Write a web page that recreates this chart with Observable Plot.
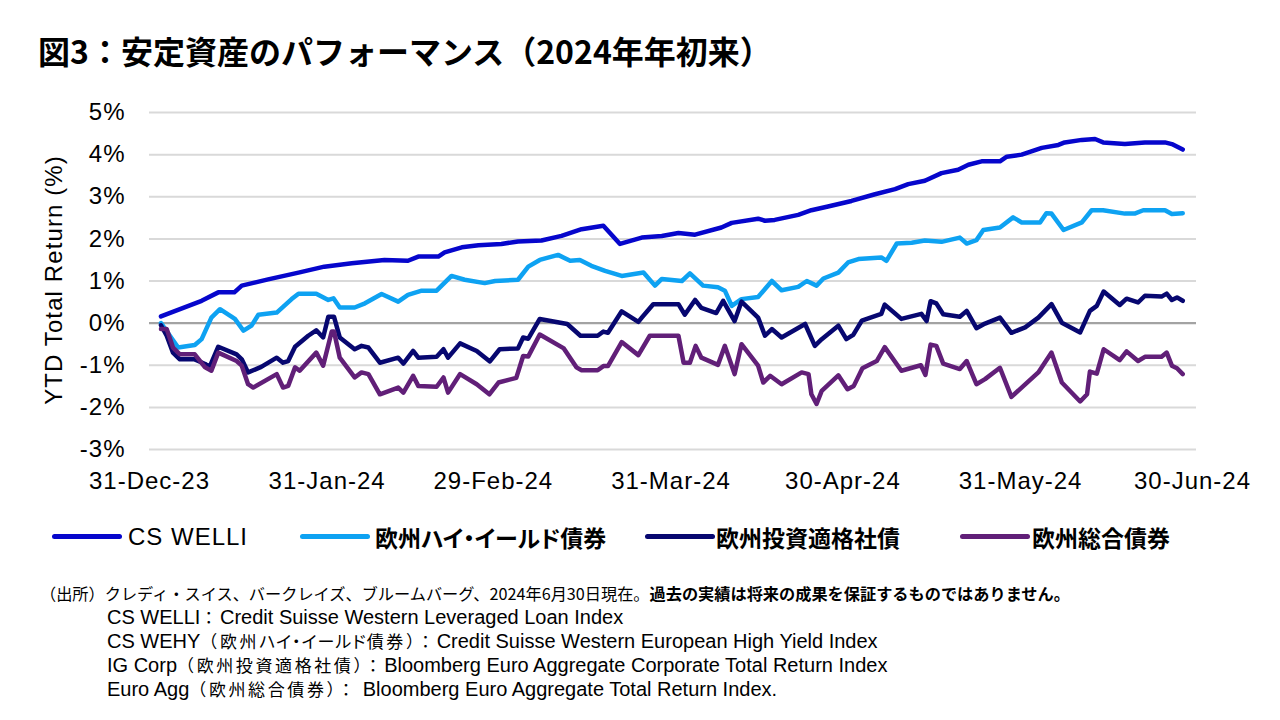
<!DOCTYPE html>
<html>
<head>
<meta charset="utf-8">
<script src="https://cdn.jsdelivr.net/npm/d3@7"></script>
<script src="https://cdn.jsdelivr.net/npm/@observablehq/plot@0.6"></script>
<style>
  html, body { margin: 0; padding: 0; background: #fff; }
  body { width: 1280px; height: 720px; position: relative; overflow: hidden; }
  #title { position: absolute; left: 38px; top: 32px; font-family: "Noto Sans CJK JP", sans-serif; font-weight: 700; font-size: 32px; line-height: 36px; color: #000; white-space: nowrap; }
  #chart { position: absolute; left: 0; top: 0; }
  #ytitle { position: absolute; left: -96px; top: 265px; width: 300px; height: 30px; line-height: 30px; text-align: center; transform: rotate(-90deg); transform-origin: 150px 15px; font-family: "Liberation Sans", Arial, sans-serif; font-size: 24px; letter-spacing: 1.1px; color: #000; white-space: nowrap; }
  .lg-line { position: absolute; height: 5px; border-radius: 2.5px; }
  .lg-text { position: absolute; height: 30px; line-height: 30px; white-space: nowrap; color: #000; }
  .lg-lat { font-family: "Liberation Sans", Arial, sans-serif; font-size: 24px; letter-spacing: 1px; }
  .lg-jp { font-family: "Noto Sans CJK JP", sans-serif; font-size: 23px; font-weight: 700; font-feature-settings: "palt" 1; }
  #caption { position: absolute; left: 40px; top: 581px; font-family: "Liberation Sans", Arial, "Noto Sans CJK JP", sans-serif; font-size: 20px; line-height: 24px; color: #000; white-space: nowrap; }
  #caption .l1 { font-family: "Noto Sans CJK JP", sans-serif; font-size: 16.2px; }
  #caption .ind { padding-left: 67px; }
  #caption .j { font-family: "Noto Sans CJK JP", sans-serif; font-size: 17px; letter-spacing: 2.6px; }
  #caption .p { font-feature-settings: "palt" 1; letter-spacing: 1px; }
</style>
</head>
<body>
<div id="title">図3：安定資産のパフォーマンス（2024年年初来）</div>
<div id="chart"></div>
<div id="ytitle">YTD Total Return (%)</div>
<div id="legend"></div>
<div id="caption">
  <div class="l1">（出所）クレディ・スイス、バークレイズ、ブルームバーグ、2024年6月30日現在。<b>過去の実績は将来の成果を保証するものではありません。</b></div>
  <div class="ind">CS WELLI<span class="j">：</span>Credit Suisse Western Leveraged Loan Index</div>
  <div class="ind">CS WEHY<span class="j">（欧州<span class="p">ハイ・イールド</span>債券）：</span>Credit Suisse Western European High Yield Index</div>
  <div class="ind">IG Corp<span class="j">（欧州投資適格社債）：</span>Bloomberg Euro Aggregate Corporate Total Return Index</div>
  <div class="ind">Euro Agg<span class="j">（欧州総合債券）：</span> Bloomberg Euro Aggregate Total Return Index.</div>
</div>
<script>
// ---- data (x = days since 31-Dec-23, y = YTD total return in %) ----
const seriesNames = ["CS WELLI", "欧州ハイ・イールド債券", "欧州投資適格社債", "欧州総合債券"];
const seriesColors = ["#0606cc", "#0ea2f2", "#070770", "#611f78"];

const welliDay = [2, 9.1, 12, 14.8, 16.1, 20.7, 26, 30.5, 35.3, 41, 45.1, 46.9, 50.4, 51.5, 54.5, 57.4, 61.4, 64.3, 68.4, 71.9, 75.4, 79.2, 82.1, 85.9, 89.4, 92.3, 95.2, 99.8, 101.6, 106.2, 107.4, 109.1, 113.2, 115.5, 118.4, 122.5, 126.6, 130.1, 132.4, 135.3, 138.2, 141.1, 142.9, 145.2, 148.4, 149.6, 152.2, 155.7, 158.6, 159.7, 162.7, 165, 166.4, 170.2, 173.7, 177.2, 178.4, 180.3];
const welliVal = [0.16, 0.53, 0.73, 0.73, 0.89, 1.04, 1.20, 1.34, 1.42, 1.50, 1.48, 1.58, 1.58, 1.68, 1.80, 1.85, 1.88, 1.94, 1.96, 2.07, 2.23, 2.31, 1.88, 2.03, 2.07, 2.14, 2.10, 2.27, 2.38, 2.48, 2.43, 2.45, 2.57, 2.68, 2.77, 2.90, 3.06, 3.18, 3.30, 3.38, 3.56, 3.64, 3.76, 3.84, 3.84, 3.95, 4.00, 4.16, 4.23, 4.29, 4.35, 4.37, 4.29, 4.25, 4.29, 4.29, 4.25, 4.12];

const hyDay = [2, 5, 7.9, 9.1, 10.8, 12.3, 14.9, 16.4, 17.8, 19, 22.2, 24.8, 26, 29.1, 31.2, 32.1, 33.2, 35.8, 37.6, 40.5, 43.4, 45.1, 47.5, 50.1, 52.7, 55, 58.5, 60.3, 64.3, 66.1, 68.1, 71.3, 73.4, 75.1, 77.1, 79.5, 82.4, 86.2, 88.2, 89.4, 92.9, 94.3, 96.6, 99.2, 100.4, 101.6, 103.3, 106.2, 108.6, 110.3, 113.2, 114.7, 116.4, 117.6, 120.2, 121.9, 123.7, 127.7, 128.6, 130.4, 133, 135.3, 138.2, 141.4, 142.6, 144.3, 145.5, 148.4, 150.7, 152.2, 155.4, 156.5, 157.4, 159.5, 162.7, 164.4, 166.4, 170.2, 171.9, 173.4, 177.2, 178.4, 180.3];
const hyVal = [0.00, -0.58, -0.52, -0.38, 0.13, 0.33, 0.10, -0.18, -0.06, 0.20, 0.25, 0.57, 0.70, 0.70, 0.55, 0.59, 0.37, 0.37, 0.47, 0.69, 0.51, 0.67, 0.77, 0.77, 1.12, 1.03, 0.95, 1.00, 1.03, 1.34, 1.50, 1.62, 1.48, 1.50, 1.36, 1.24, 1.12, 1.20, 0.89, 1.05, 1.00, 1.18, 0.89, 0.85, 0.77, 0.41, 0.57, 0.62, 1.00, 0.78, 0.86, 1.00, 0.89, 1.06, 1.20, 1.44, 1.52, 1.56, 1.48, 1.89, 1.91, 1.96, 1.93, 2.03, 1.89, 1.97, 2.21, 2.27, 2.51, 2.39, 2.39, 2.61, 2.60, 2.21, 2.39, 2.68, 2.68, 2.60, 2.60, 2.68, 2.68, 2.59, 2.61];

const igDay = [2, 3, 4.1, 5.3, 7.9, 9.7, 10.5, 12, 15.2, 16.1, 17.2, 19.5, 22.2, 23.3, 24.2, 25.4, 27.7, 29.1, 30.3, 31.2, 32.2, 33.2, 35.8, 37, 38.2, 40.2, 43.4, 44.3, 46, 46.9, 50.1, 51.3, 52.1, 54.2, 57.1, 59.4, 61.1, 64.3, 65.2, 66.1, 68.1, 72.9, 75.2, 78.2, 79.2, 80, 82.4, 85.3, 85.9, 87.9, 92.3, 93.4, 95.2, 96.3, 98.9, 100.1, 102.1, 103.3, 106.2, 107.4, 108.6, 110.3, 114.4, 116.1, 117.3, 120.2, 121.6, 122.8, 124.3, 127.7, 128.3, 131.2, 134.7, 135.6, 136.3, 137.3, 138.5, 141.4, 142.6, 144.3, 145.8, 148.4, 150.4, 152.8, 155.1, 157.4, 159.2, 162.4, 164.1, 165.3, 166.5, 169.3, 170.5, 172.5, 173.7, 176.6, 177.5, 178.4, 179.3, 180.3];
const igVal = [-0.05, -0.30, -0.70, -0.86, -0.86, -0.97, -1.04, -0.56, -0.74, -0.86, -1.17, -1.04, -0.82, -0.94, -0.90, -0.56, -0.30, -0.17, -0.34, 0.15, 0.15, -0.34, -0.62, -0.54, -0.58, -0.94, -0.82, -0.96, -0.66, -0.82, -0.80, -0.62, -0.82, -0.48, -0.66, -0.91, -0.62, -0.60, -0.34, -0.37, 0.10, -0.02, -0.30, -0.30, -0.20, -0.23, 0.28, 0.03, 0.13, 0.45, 0.45, 0.20, 0.55, 0.36, 0.24, 0.53, 0.05, 0.51, 0.13, -0.30, -0.14, -0.34, -0.02, -0.54, -0.38, -0.06, -0.38, -0.28, 0.06, 0.22, 0.44, 0.10, 0.22, 0.05, 0.52, 0.47, 0.21, 0.15, 0.29, -0.12, -0.01, 0.13, -0.23, -0.10, 0.13, 0.45, 0.01, -0.22, 0.29, 0.41, 0.75, 0.43, 0.58, 0.49, 0.65, 0.63, 0.70, 0.55, 0.61, 0.53];

const aggDay = [2, 3, 4.1, 5.3, 7.9, 9.7, 10.8, 12, 15.2, 16.1, 17.2, 18.1, 22.2, 23.3, 24.2, 25.4, 26.2, 29.1, 30.3, 31.8, 32.2, 33.2, 35.8, 37, 38.2, 40.2, 43.4, 44.3, 46, 46.9, 50.1, 51.3, 52.1, 54.2, 57.1, 59.3, 60.9, 64, 65.2, 66.1, 68.1, 72.3, 74.5, 75.4, 78.2, 79.2, 80, 82.4, 85.3, 87.3, 92.3, 93.2, 94.3, 95.3, 96.3, 99.2, 100.4, 102.1, 103.3, 106.2, 107.1, 108.3, 110.3, 113.8, 115, 115.5, 116.4, 117.3, 120.2, 121.8, 122.9, 124.4, 126.9, 128.3, 131.2, 134.6, 135.4, 136.3, 137.3, 138.5, 141.4, 142.6, 144.3, 145.8, 148.4, 150.4, 155.1, 157.4, 159.2, 162.4, 163.6, 164.1, 165.3, 166.5, 169.3, 170.5, 172.5, 173.7, 176.6, 177.5, 178.4, 179.3, 180.3];
const aggVal = [-0.14, -0.14, -0.58, -0.74, -0.74, -1.05, -1.13, -0.70, -0.90, -1.01, -1.45, -1.53, -1.21, -1.53, -1.49, -1.05, -1.13, -0.70, -1.01, -0.20, -0.20, -0.82, -1.29, -1.17, -1.21, -1.69, -1.53, -1.65, -1.25, -1.49, -1.51, -1.29, -1.65, -1.21, -1.45, -1.69, -1.41, -1.30, -0.78, -0.79, -0.27, -0.60, -1.05, -1.12, -1.12, -1.02, -1.02, -0.45, -0.76, -0.30, -0.30, -0.94, -0.94, -0.54, -0.82, -0.99, -0.54, -1.21, -0.50, -1.01, -1.41, -1.25, -1.45, -1.17, -1.21, -1.69, -1.92, -1.61, -1.24, -1.57, -1.49, -1.07, -0.90, -0.57, -1.13, -1.00, -1.23, -0.51, -0.54, -0.96, -1.09, -0.90, -1.45, -1.33, -1.06, -1.75, -1.17, -0.70, -1.41, -1.86, -1.69, -1.15, -1.20, -0.62, -0.88, -0.67, -0.90, -0.80, -0.80, -0.70, -1.01, -1.07, -1.21];

const yTicks = [-3, -2, -1, 0, 1, 2, 3, 4, 5];
const xTickDays = [0, 31, 60, 91, 121, 152, 182]; // 31-Dec-23 ... 30-Jun-24

// ---- build table ----
const base = Date.UTC(2023, 11, 31);
const toDate = d => new Date(base + d * 864e5);
const seriesData = [[welliDay, welliVal], [hyDay, hyVal], [igDay, igVal], [aggDay, aggVal]];
const rows = [];
seriesData.forEach(([days, vals], k) => {
  days.forEach((d, i) => rows.push({date: toDate(d), value: vals[i], series: seriesNames[k]}));
});
const xTicks = xTickDays.map(toDate);

const chart = Plot.plot({
  width: 1280,
  height: 500,
  marginLeft: 149,
  marginRight: 84,
  marginTop: 112,
  marginBottom: 51,
  style: {fontFamily: '"Liberation Sans", Arial, sans-serif', fontSize: "24px", letterSpacing: "1px", color: "#000", background: "transparent", overflow: "visible"},
  x: {type: "utc", domain: [toDate(0), toDate(182.7)]},
  y: {domain: [-3, 5]},
  color: {domain: seriesNames, range: seriesColors},
  marks: [
    Plot.gridY(yTicks.filter(t => t !== 0), {stroke: "#d9d9d9", strokeOpacity: 1, strokeWidth: 2}),
    Plot.ruleY([0], {stroke: "#a3a3a3", strokeWidth: 2.2}),
    Plot.lineY(rows, {x: "date", y: "value", z: "series", stroke: "series", strokeWidth: 4.5, strokeLinejoin: "round", strokeLinecap: "round"}),
    Plot.axisY(yTicks, {tickSize: 0, tickPadding: 24, tickFormat: d => d + "%", fontSize: 24, label: null}),
    Plot.axisX(xTicks, {tickSize: 0, tickPadding: 22, tickFormat: d3.utcFormat("%d-%b-%y"), fontSize: 24, label: null})
  ]
});
document.getElementById("chart").appendChild(chart);

// ---- legend ----
const legendLayout = [
  {line: 52, text: 128, cls: "lg-lat"},
  {line: 300, text: 375, cls: "lg-jp"},
  {line: 645, text: 716, cls: "lg-jp"},
  {line: 960, text: 1032, cls: "lg-jp"}
];
const legend = document.getElementById("legend");
seriesNames.forEach((name, i) => {
  const L = legendLayout[i];
  const ln = document.createElement("div");
  ln.className = "lg-line";
  ln.style.left = L.line + "px";
  ln.style.top = "534px";
  ln.style.width = "70px";
  ln.style.background = seriesColors[i];
  legend.appendChild(ln);
  const tx = document.createElement("div");
  tx.className = "lg-text " + L.cls;
  tx.style.left = L.text + "px";
  tx.style.top = "522px";
  tx.textContent = name;
  legend.appendChild(tx);
});
</script>
</body>
</html>
